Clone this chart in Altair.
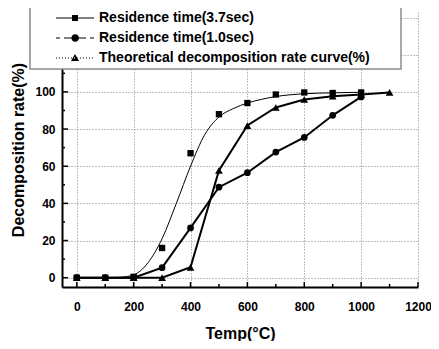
import altair as alt
import pandas as pd

# ---- data ----
temps = [0, 100, 200, 300, 400, 500, 600, 700, 800, 900, 1000]
res37 = [0, 0, 0.5, 16, 67, 88, 94, 98.6, 99.7, 99.4, 99.7]
res10 = [0, 0, 0, 5.4, 26.8, 48.7, 56.5, 67.6, 75.5, 87.4, 97.3]
temps_theo = [0, 100, 200, 300, 400, 500, 600, 700, 800, 900, 1000, 1100]
theo = [0, 0, 0, 0, 5.6, 57.7, 81.9, 91.6, 95.9, 97.7, 98.6, 99.7]
# thin fitted curve drawn through the 3.7 sec points
fit_t = [0, 100, 150, 200, 250, 300, 350, 400, 450, 500, 550, 600, 650, 700, 800, 900, 1000]
fit_v = [0, 0, 0.2, 1.5, 8, 21, 40, 60, 77, 86.5, 91, 94, 96, 97.5, 99, 99.5, 99.8]

names = ["Residence time(3.7sec)", "Residence time(1.0sec)",
         "Theoretical decomposition rate curve(%)"]
x_major = [0, 200, 400, 600, 800, 1000, 1200]
x_minor = [100, 300, 500, 700, 900, 1100]
y_major = [0, 20, 40, 60, 80, 100, 120, 140]
y_minor = [10, 30, 50, 70, 90, 110, 130]
x_dom = [-52, 1200]
y_dom = [-5, 143]

FONT = "Liberation Sans"

d37 = pd.DataFrame({"t": temps, "v": res37, "s": names[0]})
d10 = pd.DataFrame({"t": temps, "v": res10, "s": names[1]})
dth = pd.DataFrame({"t": temps_theo, "v": theo, "s": names[2]})
dfit = pd.DataFrame({"t": fit_t, "v": fit_v})
dall = pd.concat([d37, d10, dth])
dxmaj = pd.DataFrame({"t": x_major, "v": y_dom[0]})
dxmin = pd.DataFrame({"t": x_minor, "v": y_dom[0]})
dymaj = pd.DataFrame({"v": y_major, "t": x_dom[0]})
dymin = pd.DataFrame({"v": y_minor, "t": x_dom[0]})

xs = alt.Scale(domain=x_dom, nice=False, zero=False)
ys = alt.Scale(domain=y_dom, nice=False, zero=False)

x_axis = alt.Axis(values=x_major, format="d", labelPadding=14, titlePadding=13)
y_axis = alt.Axis(values=y_major, format="d", labelPadding=7, titlePadding=8,
                  labelExpr="datum.value > 100 ? '' : datum.label")


def X():
    return alt.X("t:Q", scale=xs, title="Temp(°C)", axis=x_axis)


def Y():
    return alt.Y("v:Q", scale=ys, title="Decomposition rate(%)", axis=y_axis)


def u(v):
    return f"{v / 8:.4f}"


def bar(a, b, h=0.5):
    # thin filled strip from a to b (px), half height h (px)
    return f"M{u(a)},{u(-h)}H{u(b)}V{u(h)}H{u(a)}Z"


# invisible anchor that stretches the legend frame to the right
anchor = f"M{u(355)},0"

# legend symbols (custom filled paths, 8 px per unit)
p_sq = bar(14, 52) + f"M{u(30)},{u(-3)}H{u(36)}V{u(3)}H{u(30)}Z" + anchor
p_ci = (bar(14, 18) + bar(22, 44) + bar(48, 52)
        + f"M{u(37)},0A{u(3.8)},{u(3.8)} 0 1,1 {u(29.4)},0A{u(3.8)},{u(3.8)} 0 1,1 {u(37)},0Z"
        + anchor)
p_tr = "".join(bar(a, a + 1) for a in range(14, 53, 3)) + \
    f"M{u(29)},{u(3)}L{u(37)},{u(3)}L{u(33)},{u(-4)}Z" + anchor

legend_layer = alt.Chart(dall).mark_point(
    opacity=0, filled=True, color="black").encode(
    x=X(), y=Y(),
    shape=alt.Shape("s:N", scale=alt.Scale(domain=names, range=[p_sq, p_ci, p_tr]),
                    legend=alt.Legend(title=None, orient="none", legendX=-32, legendY=-6,
                                      padding=4, symbolSize=256, symbolOpacity=1,
                                      symbolStrokeWidth=0, labelOffset=49, rowPadding=5,
                                      labelFont=FONT, labelFontWeight="bold",
                                      labelFontSize=14, labelColor="black",
                                      labelLimit=0,
                                      strokeColor="#8c8c8c", fillColor="white")))

fit_line = alt.Chart(dfit).mark_line(color="black", strokeWidth=1, interpolate="monotone").encode(
    x=X(), y=Y())
l10 = alt.Chart(d10).mark_line(color="black", strokeWidth=2).encode(x=X(), y=Y())
lth = alt.Chart(dth).mark_line(color="black", strokeWidth=2).encode(x=X(), y=Y())
p37 = alt.Chart(d37).mark_point(shape="square", filled=True, color="black", size=40, opacity=1).encode(
    x=X(), y=Y())
p10 = alt.Chart(d10).mark_point(shape="circle", filled=True, color="black", size=45, opacity=1).encode(
    x=X(), y=Y())
pth = alt.Chart(dth).mark_point(shape="triangle-up", filled=True, color="black", size=60, opacity=1).encode(
    x=X(), y=Y())

# inward ticks
tx_major = alt.Chart(dxmaj).mark_tick(
    orient="vertical", size=5, thickness=1.5, color="black", yOffset=-2.5, opacity=1).encode(
    x=X(), y=Y())
tx_minor = alt.Chart(dxmin).mark_tick(
    orient="vertical", size=3, thickness=1.5, color="black", yOffset=-1.5, opacity=1).encode(
    x=X(), y=Y())
ty_major = alt.Chart(dymaj).mark_tick(
    orient="horizontal", size=6, thickness=1.5, color="black", xOffset=3, opacity=1).encode(
    x=X(), y=Y())
ty_minor = alt.Chart(dymin).mark_tick(
    orient="horizontal", size=3, thickness=1.5, color="black", xOffset=1.5, opacity=1).encode(
    x=X(), y=Y())

chart = alt.layer(fit_line, l10, lth, p37, p10, pth,
                  tx_major, tx_minor, ty_major, ty_minor, legend_layer).properties(
    width=356, height=275,
    autosize=alt.AutoSizeParams(type="none"),
    padding={"left": 54, "top": 4, "right": 13, "bottom": 54},
    background="white",
).configure_view(stroke=None).configure_legend(strokeWidth=1.5).configure_axis(
    grid=True, gridColor="#808080", gridDash=[1, 2], gridWidth=1, gridOpacity=1,
    ticks=False, domainColor="black", domainWidth=2, labelOverlap=False,
    labelFont=FONT, labelFontWeight="bold", labelFontSize=12, labelColor="black",
    labelFlush=False, titleFont=FONT, titleFontWeight="bold", titleFontSize=16,
    titleColor="black")

chart.save("out.html", embed_options={"renderer": "svg", "actions": False})
